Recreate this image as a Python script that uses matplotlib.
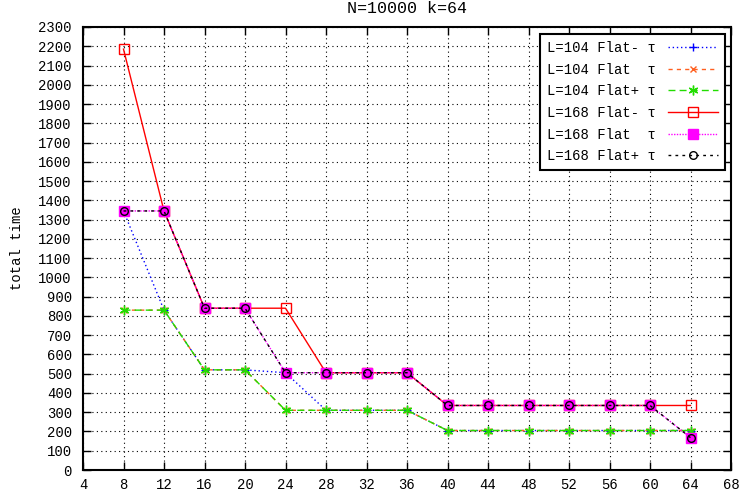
import matplotlib
matplotlib.use("Agg")
import matplotlib.pyplot as plt

x = [8, 12, 16, 20, 24, 28, 32, 36, 40, 44, 48, 52, 56, 60, 64]
l104_minus = [1345, 830, 520, 520, 505, 310, 310, 310, 205, 205, 205, 205, 205, 205, 205]
l104_flat = [830, 830, 520, 520, 310, 310, 310, 310, 205, 205, 205, 205, 205, 205, 205]
l104_plus = [830, 830, 520, 520, 310, 310, 310, 310, 205, 205, 205, 205, 205, 205, 205]
l168_minus = [2185, 1345, 840, 840, 840, 505, 505, 505, 335, 335, 335, 335, 335, 335, 335]
l168_flat = [1345, 1345, 840, 840, 505, 505, 505, 505, 335, 335, 335, 335, 335, 335, 168]
l168_plus = [1345, 1345, 840, 840, 505, 505, 505, 505, 335, 335, 335, 335, 335, 335, 168]

labels = ["L=104 Flat- τ", "L=104 Flat  τ", "L=104 Flat+ τ",
          "L=168 Flat- τ", "L=168 Flat  τ", "L=168 Flat+ τ"]
xticks = list(range(4, 69, 4))
yticks = list(range(0, 2301, 100))

plt.rcParams['font.family'] = ['Liberation Mono', 'DejaVu Sans Mono']
plt.rcParams['font.size'] = 10

fig = plt.figure(figsize=(7.44, 4.97), dpi=100)
ax = fig.add_axes([83/744, 27/497, (731-83)/744, (470-27)/497])

ax.plot(x, l104_minus, color='#0000ff', linestyle=(0, (1, 2)), lw=1, marker='+', ms=6, mew=1, label=labels[0])
ax.plot(x, l104_flat, color='#ff6020', linestyle=(0, (3, 3)), lw=1, marker='x', ms=5, mew=1, label=labels[1])
ax.plot(x, l104_plus, color='#22dd00', linestyle=(0, (5, 3)), lw=1, marker=(6, 2, 0), ms=7, mew=1, label=labels[2])
ax.plot(x, l168_minus, color='#ff0000', linestyle='-', lw=1, marker='s', ms=7, mfc='none', mew=1, label=labels[3])
ax.plot(x, l168_flat, color='#ff00ff', linestyle=(0, (1, 1)), lw=1, marker='s', ms=7, mfc='#ff00ff', mec='#ff00ff', label=labels[4])
ax.plot(x, l168_plus, color='#000000', linestyle=(0, (2, 3)), lw=1, marker='o', ms=5.5, mfc='none', mew=1, label=labels[5])

ax.set_xlim(4, 68)
ax.set_ylim(0, 2300)
ax.set_xticks(xticks)
ax.set_yticks(yticks)
ax.tick_params(direction='in', length=6, width=1, top=True, right=True, pad=6)
ax.tick_params(axis='y', pad=8)
ax.grid(True, color='black', linestyle=(0, (1, 3)), lw=0.8)
for s in ax.spines.values():
    s.set_linewidth(1.5)

ax.set_ylabel("total time", labelpad=10)
ax.set_title("N=10000 k=64", pad=10)

leg = ax.legend(loc='upper right', bbox_to_anchor=(0.991, 0.984), borderaxespad=0,
                markerfirst=False, handlelength=3.6, handletextpad=0.9, labelspacing=0.55,
                fancybox=False, framealpha=1, edgecolor='black', borderpad=0.5)
leg.get_frame().set_linewidth(1.5)

fig.savefig("out.png", dpi=100)
